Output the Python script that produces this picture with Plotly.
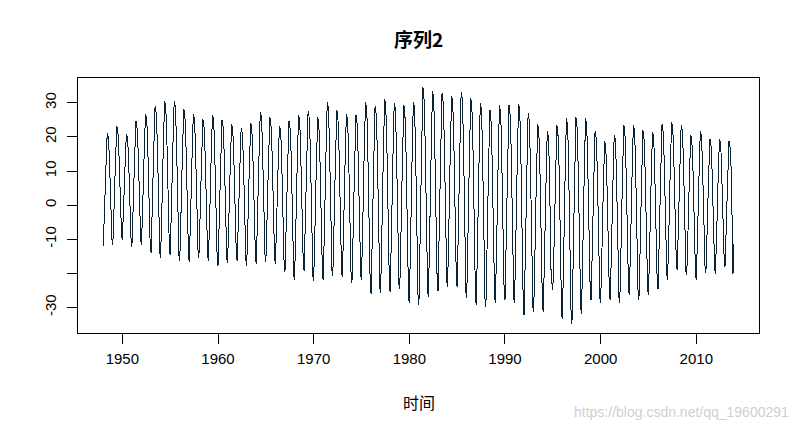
import plotly.graph_objects as go

# ---- data (monthly, Jan 1948 - Dec 2013) ----
start_year = 1948
series_by_year = [
    [-12.1, -7.1, 1.1, 8.8, 17.0, 21.0, 20.3, 17.7, 11.7, 1.8, -6.8, -10.3],      # 1948
    [-11.8, -6.6, 2.2, 10.2, 18.9, 23.1, 22.4, 19.6, 13.3, 2.9, -6.2, -8.7],      # 1949
    [-10.2, -5.6, 2.2, 9.3, 17.1, 20.8, 20.2, 17.7, 12.1, 2.8, -5.2, -10.6],      # 1950
    [-12.1, -6.6, 2.6, 11.0, 20.2, 24.6, 23.9, 20.9, 14.3, 3.3, -6.2, -10.3],     # 1951
    [-11.8, -6.0, 3.6, 12.5, 22.1, 26.7, 25.9, 22.9, 15.9, 4.4, -5.6, -12.4],     # 1952
    [-13.9, -7.5, 3.2, 13.1, 23.8, 28.9, 28.0, 24.6, 16.9, 4.1, -7.1, -13.9],     # 1953
    [-15.4, -8.5, 2.9, 13.5, 24.9, 30.4, 29.5, 25.8, 17.6, 3.8, -8.1, -13.1],     # 1954
    [-14.6, -7.9, 3.4, 13.8, 25.0, 30.4, 29.5, 25.9, 17.8, 4.3, -7.4, -14.8],     # 1955
    [-16.3, -9.6, 1.5, 11.8, 22.9, 28.3, 27.4, 23.8, 15.8, 2.4, -9.2, -15.1],     # 1956
    [-16.6, -10.1, 0.7, 10.6, 21.4, 26.6, 25.7, 22.3, 14.5, 1.5, -9.7, -14.1],    # 1957
    [-15.6, -9.5, 0.7, 10.1, 20.3, 25.2, 24.4, 21.1, 13.8, 1.5, -9.1, -14.9],     # 1958
    [-16.4, -10.0, 0.7, 10.6, 21.3, 26.4, 25.5, 22.1, 14.4, 1.6, -9.6, -16.2],    # 1959
    [-17.7, -11.3, -0.6, 9.2, 19.9, 25.0, 24.1, 20.7, 13.0, 0.2, -10.9, -15.5],   # 1960
    [-17.0, -10.9, -0.7, 8.6, 18.8, 23.7, 22.9, 19.6, 12.3, 0.1, -10.5, -14.9],   # 1961
    [-16.4, -10.6, -0.8, 8.1, 17.8, 22.5, 21.7, 18.6, 11.6, -0.1, -10.2, -16.2],  # 1962
    [-17.7, -11.4, -1.0, 8.6, 19.0, 24.0, 23.2, 19.8, 12.3, -0.2, -11.0, -15.7],  # 1963
    [-17.2, -10.5, 0.6, 10.8, 21.9, 27.2, 26.3, 22.8, 14.8, 1.4, -10.1, -15.1],   # 1964
    [-16.6, -10.3, 0.3, 10.0, 20.6, 25.7, 24.9, 21.5, 13.9, 1.2, -9.8, -15.7],    # 1965
    [-17.2, -11.1, -1.0, 8.3, 18.4, 23.2, 22.4, 19.2, 11.9, -0.2, -10.7, -18.0],  # 1966
    [-19.5, -12.9, -1.8, 8.3, 19.4, 24.7, 23.8, 20.3, 12.3, -0.9, -12.4, -20.5],  # 1967
    [-22.0, -14.7, -2.6, 8.5, 20.6, 26.4, 25.4, 21.6, 12.8, -1.7, -14.3, -17.7],  # 1968
    [-19.2, -12.2, -0.5, 10.2, 21.9, 27.5, 26.6, 22.8, 14.4, 0.4, -11.7, -20.8],  # 1969
    [-22.3, -15.1, -3.1, 7.9, 19.9, 25.7, 24.7, 20.9, 12.3, -2.1, -14.6, -20.5],  # 1970
    [-22.0, -14.2, -1.2, 10.8, 23.8, 30.1, 29.1, 24.9, 15.5, -0.1, -13.7, -19.2], # 1971
    [-20.7, -13.4, -1.3, 9.9, 22.1, 27.9, 26.9, 23.0, 14.3, -0.3, -12.9, -19.5],  # 1972
    [-21.0, -13.8, -1.9, 9.1, 21.0, 26.7, 25.7, 21.9, 13.3, -1.0, -13.4, -21.4],  # 1973
    [-22.9, -15.5, -3.2, 8.2, 20.5, 26.4, 25.4, 21.5, 12.6, -2.2, -15.0, -20.5],  # 1974
    [-22.0, -14.5, -1.0, 11.2, 23.5, 30.1, 28.8, 25.2, 15.1, 0.3, -13.9, -24.4],  # 1975
    [-25.9, -17.7, -3.9, 8.8, 22.5, 29.1, 28.0, 23.6, 13.7, -2.8, -17.1, -24.1],  # 1976
    [-25.6, -17.1, -2.9, 10.1, 24.3, 31.1, 30.0, 25.4, 15.2, -1.8, -16.5, -23.9], # 1977
    [-25.4, -17.1, -3.3, 9.4, 23.3, 29.9, 28.8, 24.4, 14.4, -2.2, -16.6, -23.2],  # 1978
    [-24.7, -16.6, -3.1, 9.3, 22.8, 29.3, 28.2, 23.9, 14.2, -2.0, -16.1, -27.1],  # 1979
    [-28.6, -19.8, -5.0, 8.5, 23.2, 30.3, 29.1, 24.4, 13.8, -3.9, -19.2, -27.8],  # 1980
    [-29.3, -19.7, -3.8, 10.9, 26.8, 34.5, 33.2, 28.1, 16.6, -2.5, -19.1, -25.4], # 1981
    [-26.9, -17.9, -2.8, 11.1, 26.2, 33.4, 32.2, 27.4, 16.5, -1.6, -17.3, -23.6], # 1982
    [-25.1, -16.4, -1.9, 11.4, 25.9, 32.9, 31.7, 27.1, 16.7, -0.7, -15.8, -22.4], # 1983
    [-23.9, -15.5, -1.6, 11.3, 25.2, 31.9, 30.8, 26.3, 16.3, -0.5, -15.0, -22.4], # 1984
    [-23.9, -15.4, -1.1, 12.0, 26.3, 33.1, 32.0, 27.4, 17.1, 0.0, -14.8, -25.6],  # 1985
    [-27.1, -18.3, -3.7, 9.7, 24.3, 31.3, 30.1, 25.5, 14.9, -2.6, -17.8, -27.8],  # 1986
    [-29.3, -20.4, -5.7, 7.9, 22.7, 29.8, 28.6, 23.9, 13.3, -4.5, -19.8, -28.3],  # 1987
    [-29.8, -21.1, -6.7, 6.6, 21.1, 28.0, 26.8, 22.2, 11.8, -5.5, -20.6, -27.1],  # 1988
    [-28.6, -19.9, -5.5, 7.8, 22.3, 29.2, 28.0, 23.4, 13.0, -4.3, -19.4, -26.4],  # 1989
    [-27.9, -19.3, -5.0, 8.1, 22.4, 29.3, 28.2, 23.6, 13.3, -3.9, -18.7, -27.3],  # 1990
    [-28.8, -20.0, -5.4, 8.1, 22.7, 29.7, 28.5, 23.9, 13.3, -4.2, -19.4, -30.8],  # 1991
    [-32.3, -23.4, -8.6, 5.1, 19.9, 27.0, 25.8, 21.1, 10.4, -7.4, -22.8, -29.8],  # 1992
    [-31.3, -23.0, -9.3, 3.4, 17.2, 23.8, 22.7, 18.3, 8.4, -8.2, -22.5, -29.8],   # 1993
    [-31.3, -23.3, -10.1, 2.1, 15.3, 21.7, 20.6, 16.4, 6.9, -9.0, -22.8, -23.2],  # 1994
    [-24.7, -17.5, -5.5, 5.6, 17.6, 23.4, 22.4, 18.6, 9.9, -4.5, -17.0, -32.0],   # 1995
    [-33.5, -24.7, -9.9, 3.6, 18.3, 25.4, 24.2, 19.5, 8.9, -8.8, -24.1, -33.2],   # 1996
    [-34.7, -25.6, -10.5, 3.4, 18.5, 25.7, 24.5, 19.7, 8.8, -9.3, -25.0, -30.3],  # 1997
    [-31.8, -23.2, -8.9, 4.2, 18.5, 25.4, 24.3, 19.7, 9.4, -7.8, -22.6, -26.4],   # 1998
    [-27.9, -20.4, -8.0, 3.4, 15.8, 21.8, 20.8, 16.8, 7.9, -7.0, -19.9, -27.1],   # 1999
    [-28.6, -21.5, -9.7, 1.2, 13.0, 18.7, 17.8, 14.0, 5.5, -8.7, -21.0, -26.4],   # 2000
    [-27.9, -20.6, -8.5, 2.7, 14.8, 20.6, 19.6, 15.8, 7.0, -7.5, -20.1, -27.1],   # 2001
    [-28.6, -20.8, -7.7, 4.3, 17.3, 23.6, 22.6, 18.4, 9.0, -6.7, -20.2, -24.9],   # 2002
    [-26.4, -18.9, -6.5, 5.0, 17.4, 23.4, 22.4, 18.4, 9.5, -5.5, -18.4, -26.4],   # 2003
    [-27.9, -20.4, -7.9, 3.5, 16.0, 22.0, 21.0, 17.0, 8.0, -6.9, -19.9, -24.9],   # 2004
    [-26.4, -19.2, -7.2, 3.8, 15.8, 21.5, 20.5, 16.7, 8.1, -6.3, -18.7, -23.1],   # 2005
    [-24.6, -17.4, -5.3, 5.8, 17.9, 23.7, 22.7, 18.9, 10.2, -4.3, -16.9, -20.5],  # 2006
    [-22.0, -15.1, -3.5, 7.2, 18.7, 24.3, 23.4, 19.7, 11.3, -2.6, -14.6, -17.5],  # 2007
    [-19.0, -12.6, -2.0, 7.7, 18.3, 23.4, 22.6, 19.2, 11.5, -1.2, -12.2, -19.5],  # 2008
    [-20.5, -14.3, -4.1, 5.3, 15.6, 20.5, 19.7, 16.4, 9.0, -3.3, -13.9, -20.5],   # 2009
    [-22.0, -15.4, -4.5, 5.5, 16.5, 21.7, 20.8, 17.3, 9.5, -3.6, -15.0, -18.5],   # 2010
    [-20.0, -14.1, -4.2, 4.9, 14.8, 19.5, 18.7, 15.6, 8.4, -3.4, -13.7, -18.6],   # 2011
    [-20.1, -14.2, -4.3, 4.7, 14.6, 19.3, 18.5, 15.4, 8.3, -3.6, -13.8, -16.5],   # 2012
    [-18.0, -12.5, -3.3, 5.1, 14.3, 18.7, 18.0, 15.0, 8.4, -10.5, -20.3, -11.5],  # 2013
]

x_tick_vals = [1950, 1960, 1970, 1980, 1990, 2000, 2010]
x_tick_text = ["1950", "1960", "1970", "1980", "1990", "2000", "2010"]
y_tick_vals = [-30, -20, -10, 0, 10, 20, 30]
y_tick_text = ["-30", "", "-10", "0", "10", "20", "30"]

title_text = "序列2"
x_label = "时间"
watermark = "https://blog.csdn.net/qq_19600291"

# flatten into a monthly time series
values = [v for row in series_by_year for v in row]
times = [start_year + i / 12 for i in range(len(values))]

# R-style 4% padding of the data range
xmin, xmax = min(times), max(times)
ymin, ymax = min(values), max(values)
xpad = 0.04 * (xmax - xmin)
ypad = 0.04 * (ymax - ymin)

fig = go.Figure()
fig.add_trace(go.Scatter(
    x=times, y=values, mode="lines",
    line=dict(color="#0b2233", width=1),
    hoverinfo="skip", showlegend=False,
))

axis_font = dict(family="Liberation Sans, Arial, sans-serif", size=15, color="black")

fig.update_layout(
    width=800, height=431,
    margin=dict(l=78, r=41, t=78, b=98),
    paper_bgcolor="white", plot_bgcolor="white",
    title=dict(
        text="<b>" + title_text + "</b>",
        x=0.5, xref="paper", xanchor="center",
        y=1 - 40 / 431, yref="container", yanchor="middle",
        font=dict(family="Noto Sans CJK SC", size=19, color="black"),
    ),
    xaxis=dict(
        range=[xmin - xpad, xmax + xpad],
        tickvals=x_tick_vals, ticktext=x_tick_text,
        ticks="outside", ticklen=10, tickwidth=1, tickcolor="black",
        showline=True, linecolor="black", linewidth=1, mirror=True,
        showgrid=False, zeroline=False,
        tickfont=axis_font, ticklabelstandoff=2,
    ),
    yaxis=dict(
        range=[ymin - ypad, ymax + ypad],
        tickvals=y_tick_vals, ticktext=y_tick_text,
        ticks="outside", ticklen=10, tickwidth=1, tickcolor="black",
        tickangle=-90,
        showline=True, linecolor="black", linewidth=1, mirror=True,
        showgrid=False, zeroline=False,
        tickfont=axis_font, ticklabelstandoff=5,
    ),
    annotations=[
        dict(
            text=x_label, xref="paper", yref="paper",
            x=0.5, y=-(402 - 333.3) / 255.0,
            xanchor="center", yanchor="middle", showarrow=False,
            font=dict(family="Noto Sans CJK SC", size=16, color="black"),
        ),
        dict(
            text=watermark, xref="paper", yref="paper",
            x=(791 - 78.3) / 681.0, y=-(412 - 333.3) / 255.0,
            xanchor="right", yanchor="middle", showarrow=False,
            font=dict(family="Liberation Sans, Arial, sans-serif", size=14, color="#cfcfcf"),
        ),
    ],
)

post = (
    "document.body.style.margin='0';"
    "document.body.style.overflow='hidden';"
    "var gd=document.getElementById('{plot_id}');"
    "gd.querySelectorAll('.scatterlayer path').forEach(function(p){p.style.shapeRendering='crispEdges';});"
)

fig.write_html("out.html", post_script=post, config={"displayModeBar": False})
